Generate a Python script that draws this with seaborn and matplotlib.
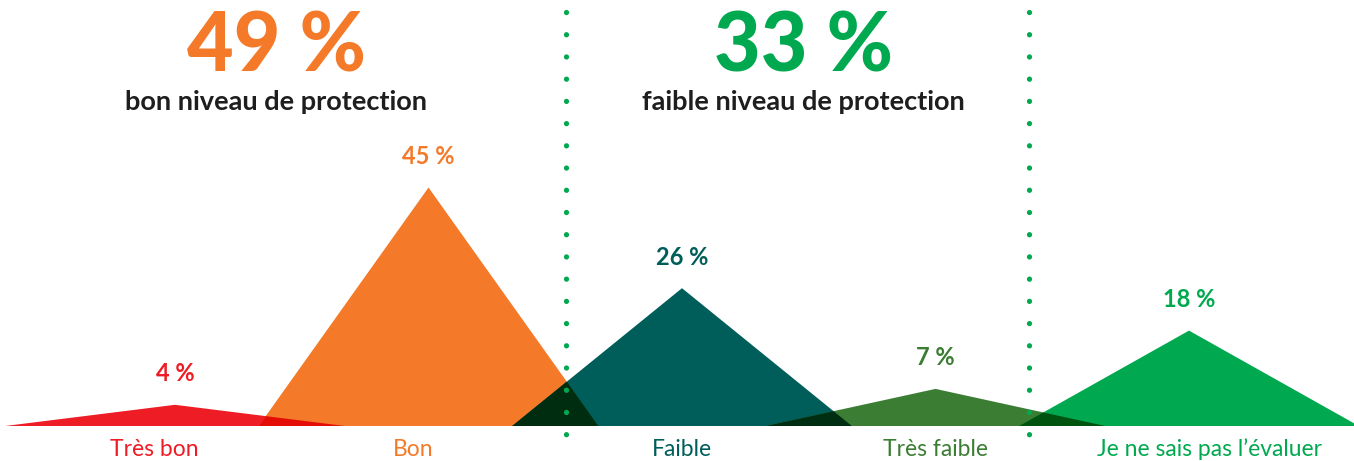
import numpy as np
import pandas as pd
import matplotlib
matplotlib.use("Agg")
import matplotlib.pyplot as plt
import matplotlib.colors as mcolors
import seaborn as sns

# ---- data ----
categories = ["Très bon", "Bon", "Faible", "Très faible", "Je ne sais pas l’évaluer"]
values = [4, 45, 26, 7, 18]
value_labels = ["4 %", "45 %", "26 %", "7 %", "18 %"]
colors = ["#EE1C25", "#F47A2A", "#005E5A", "#3B7D32", "#00A94F"]
group_values = ["49 %", "33 %"]
group_labels = ["bon niveau de protection", "faible niveau de protection"]
group_colors = ["#F47A2A", "#00A94F"]

sns.set_theme(style="white")
plt.rcParams["font.family"] = ["Lato", "DejaVu Sans"]

W, H, DPI = 1354, 461, 100
fig = plt.figure(figsize=(W / DPI, H / DPI), dpi=DPI)
ax = fig.add_axes([0, 0, 1, 1])

# axis scales: category spacing & percent scale
x0_px, dx_px, base_px, ppct = 175, 253.5, 426, 5.3
ax.set_xlim(-x0_px / dx_px, (W - x0_px) / dx_px)
ax.set_ylim((base_px - H) / ppct, base_px / ppct)
ax.axis("off")

half = 0.67  # half base width in category units
pos = np.arange(len(categories))

df = pd.DataFrame({"cat": categories, "x": pos, "v": values, "color": colors})

# triangles
for _, r in df.iterrows():
    ax.fill([r.x - half, r.x, r.x + half], [0, r.v, 0], color=r.color, lw=0, zorder=2)

# overlaps (multiply blend)
def mult(c1, c2):
    a = np.array(mcolors.to_rgb(c1)); b = np.array(mcolors.to_rgb(c2))
    return tuple(a * b)

for i in range(len(df) - 1):
    xa, ha = pos[i], values[i]
    xb, hb = pos[i + 1], values[i + 1]
    rb = xa + half
    lb = xb - half
    if rb <= lb:
        continue
    xi = (ha * rb + hb * lb) / (ha + hb)
    yi = hb * (xi - lb) / half
    ax.fill([lb, xi, rb], [0, yi, 0], color=mult(colors[i], colors[i + 1]), lw=0, zorder=3)

# value labels
for x, v, lab, c in zip(pos, values, value_labels, colors):
    ax.annotate(lab, (x, v), xytext=(0, 14), textcoords="offset points",
                ha="center", va="bottom", fontsize=17, fontweight="bold", color=c)

# category labels
label_shift = [-0.08, -0.06, 0, 0, 0.08]
for x, lab, c, s in zip(pos, categories, colors, label_shift):
    ax.text(x + s, -23 / ppct, lab, ha="center", va="center", fontsize=16.5, color=c)

# dotted separators
sep_x = [1.542, 3.37]
for sx in sep_x:
    ax.plot([sx, sx], [(base_px - 12) / ppct, (base_px - 450) / ppct], color="#00A94F",
            lw=3.8, ls=(0, (0.01, 4.2)), dash_capstyle="round", zorder=5)

# group headers
hdr_x = [0.40, 2.48]
for hx, gv, gl, gc in zip(hdr_x, group_values, group_labels, group_colors):
    ax.text(hx, (base_px - 48) / ppct, gv, ha="center", va="center",
            fontsize=58, fontweight="black", color=gc)
    ax.text(hx, (base_px - 102) / ppct, gl, ha="center", va="center",
            fontsize=19.5, fontweight="bold", color="#1E1E1E")

fig.savefig("out.png", dpi=DPI)
